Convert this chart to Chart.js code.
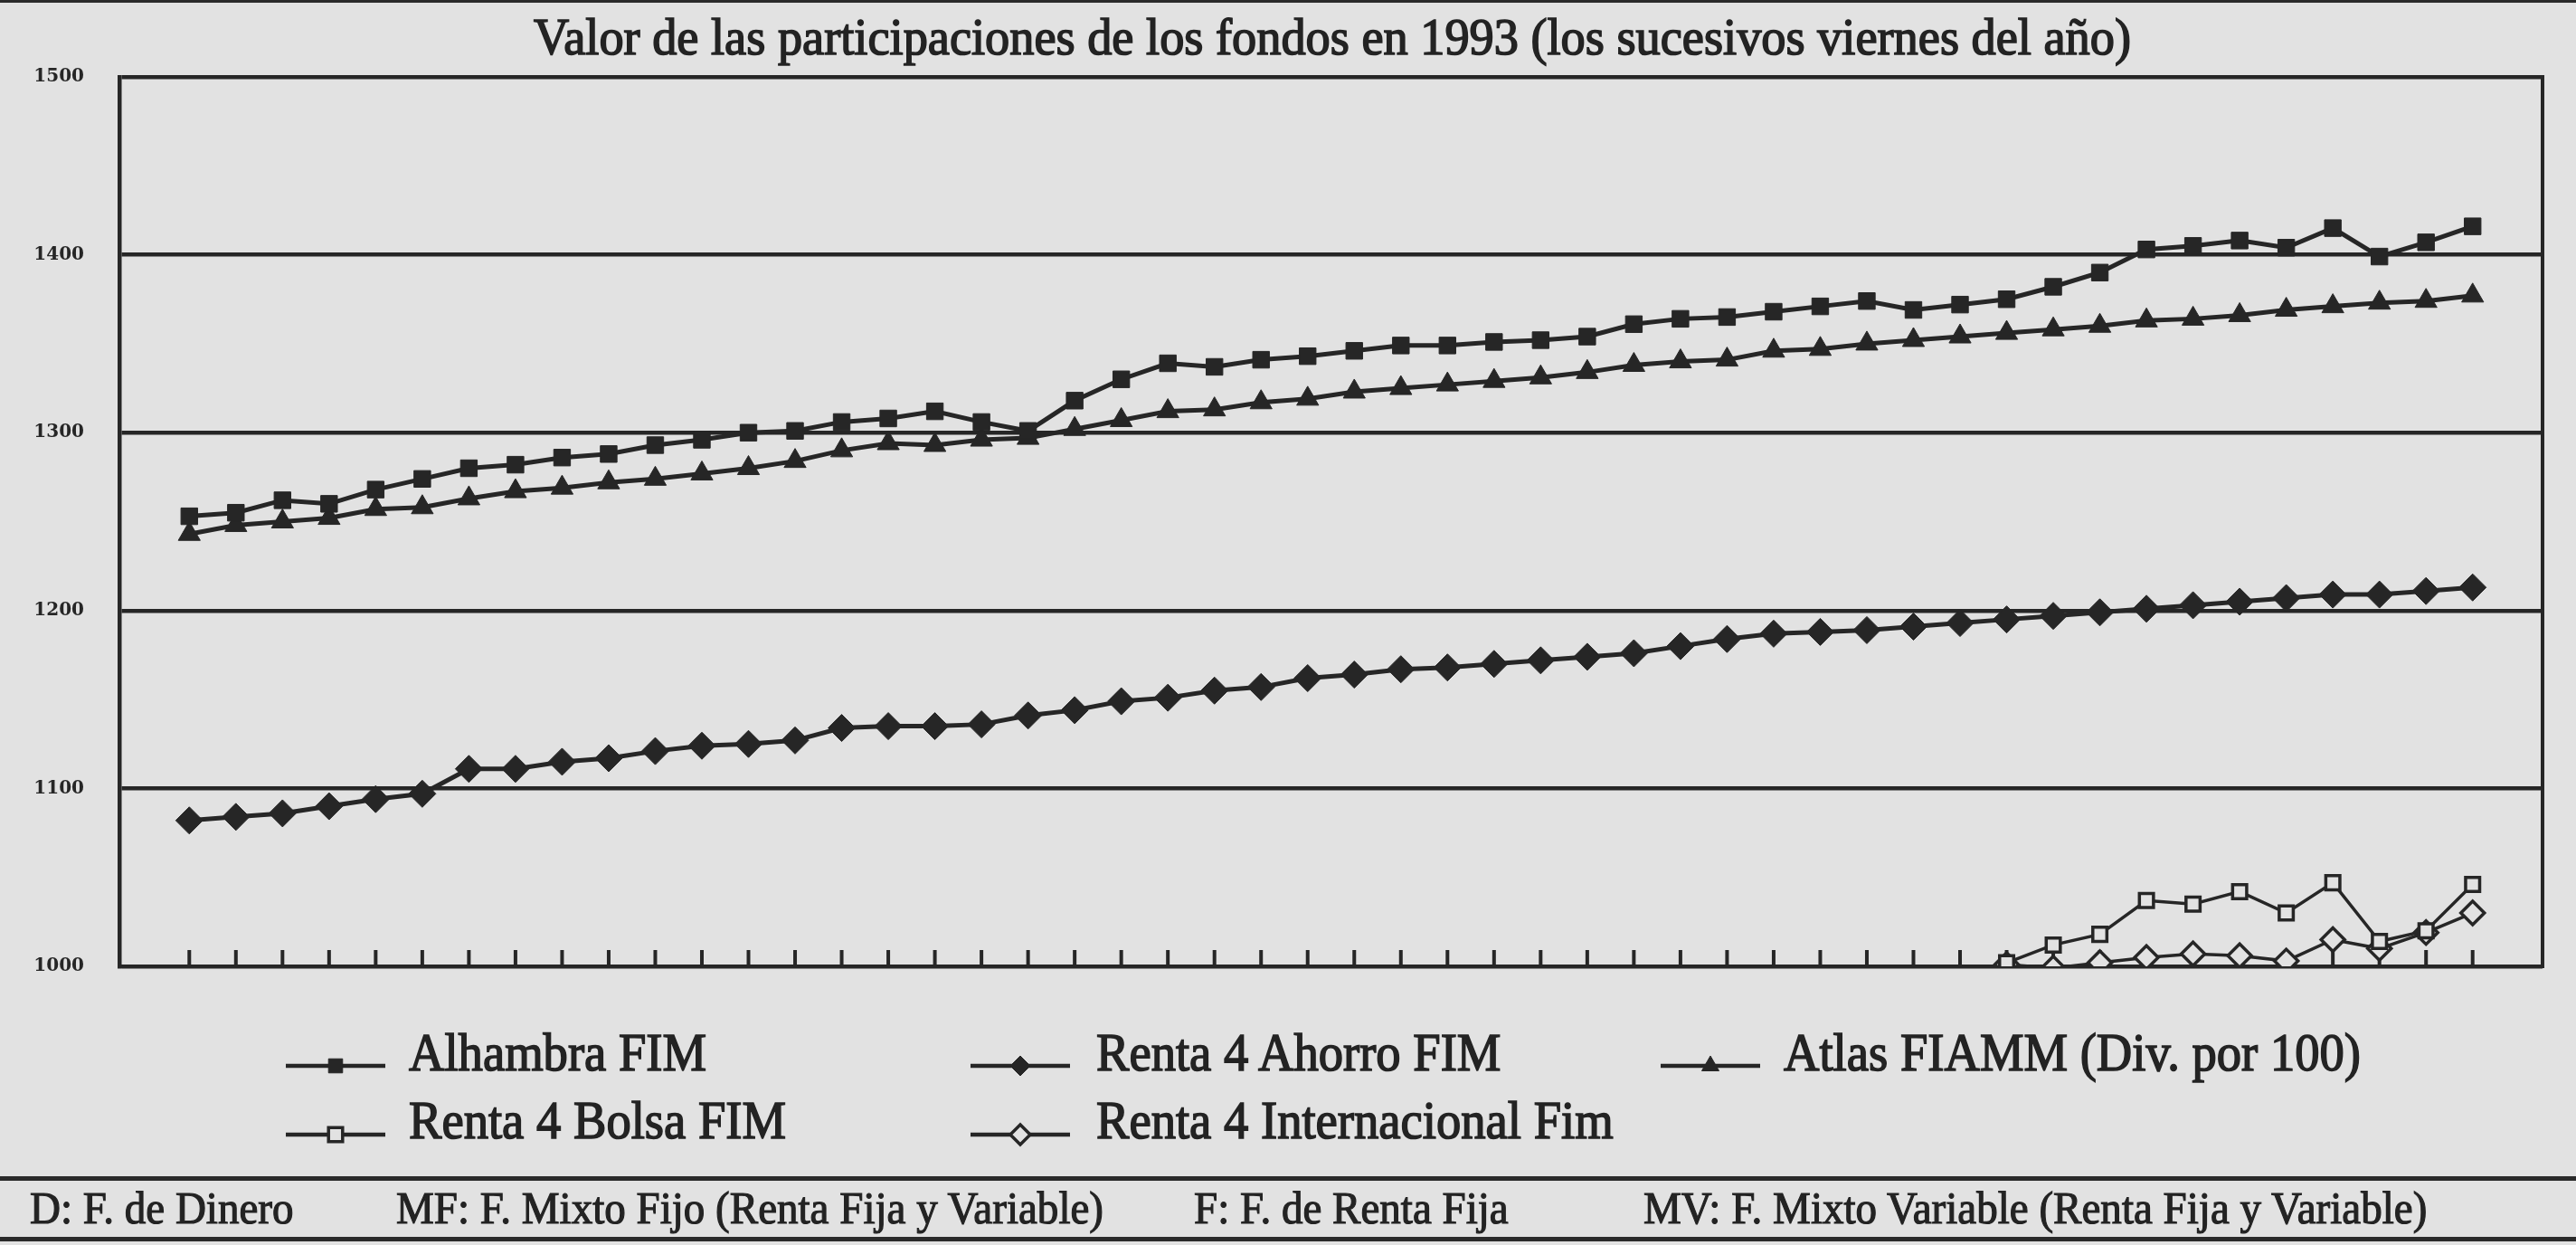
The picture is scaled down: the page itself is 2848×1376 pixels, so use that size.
<!DOCTYPE html>
<html>
<head>
<meta charset="utf-8">
<script src="https://cdn.jsdelivr.net/npm/chart.js@4.4.1/dist/chart.umd.min.js"></script>
<style>
    html, body { margin: 0; padding: 0; background: #e2e2e2; }
    #wrap { position: relative; width: 2848px; height: 1376px; overflow: hidden; background: #e2e2e2; }
    canvas { position: absolute; left: 0; top: 0; }
    .t {
        position: absolute;
        white-space: nowrap;
        font-family: "Liberation Serif", serif;
        color: #232323;
        line-height: 1;
        transform-origin: 0 0;
        -webkit-text-stroke: 1.2px #232323;
    }
    .t.big { -webkit-text-stroke: 1.6px #232323; }
    .rule { position: absolute; left: 0; width: 2848px; background: #2a2a2a; }
</style>
</head>
<body>
<div id="wrap">
    <canvas id="chart" width="2848" height="1376"></canvas>
    <div class="rule" style="top:0;height:3px"></div>
    <div class="rule" style="top:1300px;height:5px"></div>
    <div class="rule" style="top:1367px;height:5px"></div>
</div>
<script>
// Viernes de 1993 (semanas 1..50)
const weeks = [1, 2, 3, 4, 5, 6, 7, 8, 9, 10, 11, 12, 13, 14, 15, 16, 17, 18, 19, 20,
    21, 22, 23, 24, 25, 26, 27, 28, 29, 30, 31, 32, 33, 34, 35, 36, 37, 38, 39, 40,
    41, 42, 43, 44, 45, 46, 47, 48, 49, 50];
// Los dos fondos nuevos sólo aparecen al final del año
const lateWeeks = [40, 41, 42, 43, 44, 45, 46, 47, 48, 49, 50];

const alhambra = [1253, 1255, 1262, 1260, 1268, 1274, 1280, 1282, 1286, 1288,
    1293, 1296, 1300, 1301, 1306, 1308, 1312, 1306, 1301, 1318,
    1330, 1339, 1337, 1341, 1343, 1346, 1349, 1349, 1351, 1352,
    1354, 1361, 1364, 1365, 1368, 1371, 1374, 1369, 1372, 1375,
    1382, 1390, 1403, 1405, 1408, 1404, 1415, 1399, 1407, 1416];
const ahorro = [1082, 1084, 1086, 1090, 1094, 1097, 1111, 1111, 1115, 1117,
    1121, 1124, 1125, 1127, 1134, 1135, 1135, 1136, 1141, 1144,
    1149, 1151, 1155, 1157, 1162, 1164, 1167, 1168, 1170, 1172,
    1174, 1176, 1180, 1184, 1187, 1188, 1189, 1191, 1193, 1195,
    1197, 1199, 1201, 1203, 1205, 1207, 1209, 1209, 1211, 1213];
const atlas = [1243, 1248, 1250, 1252, 1257, 1258, 1263, 1267, 1269, 1272,
    1274, 1277, 1280, 1284, 1290, 1294, 1293, 1296, 1297, 1302,
    1307, 1312, 1313, 1317, 1319, 1323, 1325, 1327, 1329, 1331,
    1334, 1338, 1340, 1341, 1346, 1347, 1350, 1352, 1354, 1356,
    1358, 1360, 1363, 1364, 1366, 1369, 1371, 1373, 1374, 1377];
const bolsa = [1002, 1012, 1018, 1037, 1035, 1042, 1030, 1047, 1014, 1020, 1046];
const internacional = [1001, 999, 1002, 1005, 1007, 1006, 1003, 1015, 1010, 1019, 1030];

const yTicks = [1000, 1100, 1200, 1300, 1400, 1500];

const titleText = 'Valor de las participaciones de los fondos en 1993 (los sucesivos viernes del año)';
const footerItems = ['D: F. de Dinero', 'MF: F. Mixto Fijo (Renta Fija y Variable)',
    'F: F. de Renta Fija', 'MV: F. Mixto Variable (Renta Fija y Variable)'];

const INK = '#262626';
const PAPER = '#e2e2e2';

const toPoints = (xs, ys) => ys.map((v, i) => ({ x: xs[i], y: v }));

const datasets = [
    { label: 'Alhambra FIM', data: toPoints(weeks, alhambra), pointStyle: 'rect', pointRadius: 13, pointBackgroundColor: INK, pointBorderWidth: 1, borderWidth: 5 },
    { label: 'Renta 4 Ahorro FIM', data: toPoints(weeks, ahorro), pointStyle: 'rectRot', pointRadius: 15, pointBackgroundColor: INK, pointBorderWidth: 1, borderWidth: 5 },
    { label: 'Atlas FIAMM (Div. por 100)', data: toPoints(weeks, atlas), pointStyle: 'triangle', pointRadius: 14, pointBackgroundColor: INK, pointBorderWidth: 1, borderWidth: 5 },
    { label: 'Renta 4 Bolsa FIM', data: toPoints(lateWeeks, bolsa), pointStyle: 'rect', pointRadius: 11, pointBackgroundColor: PAPER, pointBorderWidth: 3.5, borderWidth: 3.5 },
    { label: 'Renta 4 Internacional Fim', data: toPoints(lateWeeks, internacional), pointStyle: 'rectRot', pointRadius: 13, pointBackgroundColor: PAPER, pointBorderWidth: 3.5, borderWidth: 3.5 }
].map(d => Object.assign({ borderColor: INK, pointBorderColor: INK, tension: 0, fill: false }, d));

// legend layout: [dataset index, column, row]
const legendSlots = [[0, 0, 0], [1, 1, 0], [2, 2, 0], [3, 0, 1], [4, 1, 1]];
const legendCols = [{ line: 316, text: 452 }, { line: 1073, text: 1212 }, { line: 1836, text: 1972 }];
const legendRows = [{ line: 1178, base: 1183 }, { line: 1254, base: 1258 }];

const marker = (ctx, ds, x, y, r) => {
    ctx.fillStyle = ds.pointBackgroundColor;
    ctx.strokeStyle = INK;
    ctx.lineWidth = ds.pointBorderWidth;
    const opts = { pointStyle: ds.pointStyle, radius: r, borderWidth: ds.pointBorderWidth, rotation: 0 };
    if (Chart.helpers && Chart.helpers.drawPoint) {
        Chart.helpers.drawPoint(ctx, opts, x, y);
    } else {
        ctx.fillRect(x - r * 0.7, y - r * 0.7, r * 1.4, r * 1.4);
    }
};

const frameAndTicks = {
    id: 'frameAndTicks',
    beforeDatasetsDraw(chart) {
        const { ctx, chartArea: a, scales: { x } } = chart;
        ctx.save();
        ctx.strokeStyle = INK;
        ctx.lineWidth = 4;
        ctx.beginPath();
        ctx.moveTo(a.right, a.top - 2);
        ctx.lineTo(a.right, a.bottom + 2);
        weeks.forEach(w => {
            const px = x.getPixelForValue(w);
            ctx.moveTo(px, a.bottom);
            ctx.lineTo(px, a.bottom - 18);
        });
        ctx.stroke();
        ctx.restore();
    },
    afterDraw(chart) {
        const ctx = chart.ctx;
        ctx.save();
        legendSlots.forEach(([di, c, r]) => {
            const ds = datasets[di];
            const x0 = legendCols[c].line, y = legendRows[r].line;
            ctx.strokeStyle = INK;
            ctx.lineWidth = 4.5;
            ctx.beginPath();
            ctx.moveTo(x0, y);
            ctx.lineTo(x0 + 110, y);
            ctx.stroke();
            marker(ctx, ds, x0 + 55, y, 11);
        });
        ctx.restore();
    }
};

new Chart(document.getElementById('chart'), {
    type: 'line',
    data: { datasets },
    options: {
        responsive: false,
        animation: false,
        layout: { padding: { left: 0, right: 37, top: 85, bottom: 308 } },
        plugins: { legend: { display: false }, title: { display: false }, tooltip: { enabled: false } },
        scales: {
            x: {
                type: 'linear', min: -0.5, max: 51.5,
                grid: { display: false, drawTicks: false },
                border: { display: true, color: INK, width: 4 },
                ticks: { display: false },
                afterFit: s => { s.height = 0; }
            },
            y: {
                min: 1000, max: 1500,
                grid: { color: INK, lineWidth: 4.5, drawTicks: false },
                border: { display: true, color: INK, width: 4.5 },
                afterBuildTicks: s => { s.ticks = yTicks.map(v => ({ value: v })); },
                ticks: {
                    padding: 39, color: INK,
                    font: { family: 'DejaVu Serif', weight: 'bold', size: 20 },
                    callback: v => String(v)
                },
                afterFit: s => { s.width = 132; }
            }
        }
    },
    plugins: [frameAndTicks]
});

// texts
const wrap = document.getElementById('wrap');
const addText = (txt, x, base, size, cls) => {
    const el = document.createElement('div');
    el.className = 't' + (cls ? ' ' + cls : '');
    el.textContent = txt;
    el.style.left = x + 'px';
    el.style.top = (base - 0.8375 * size) + 'px';
    el.style.fontSize = size + 'px';
    wrap.appendChild(el);
    return el;
};
const naturalW = el => el.getBoundingClientRect().width;

const title = addText(titleText, 590, 60, 56, 'big');
title.style.transform = `scaleX(${1766 / naturalW(title)})`;

const legendEls = legendSlots.map(([di, c, r]) => addText(datasets[di].label, legendCols[c].text, legendRows[r].base, 60, 'big'));
const kLeg = 638 / naturalW(legendEls[2]);
legendEls.forEach(e => { e.style.transform = `scaleX(${kLeg})`; });

const footX = [33, 438, 1320];
const footEls = footerItems.map((txt, i) => addText(txt, footX[i] || 0, 1352, 50));
const kFoot = 782 / naturalW(footEls[1]);
footEls.forEach(e => { e.style.transform = `scaleX(${kFoot})`; });
footEls[3].style.left = (2683 - naturalW(footEls[3])) + 'px';
</script>
</body>
</html>
